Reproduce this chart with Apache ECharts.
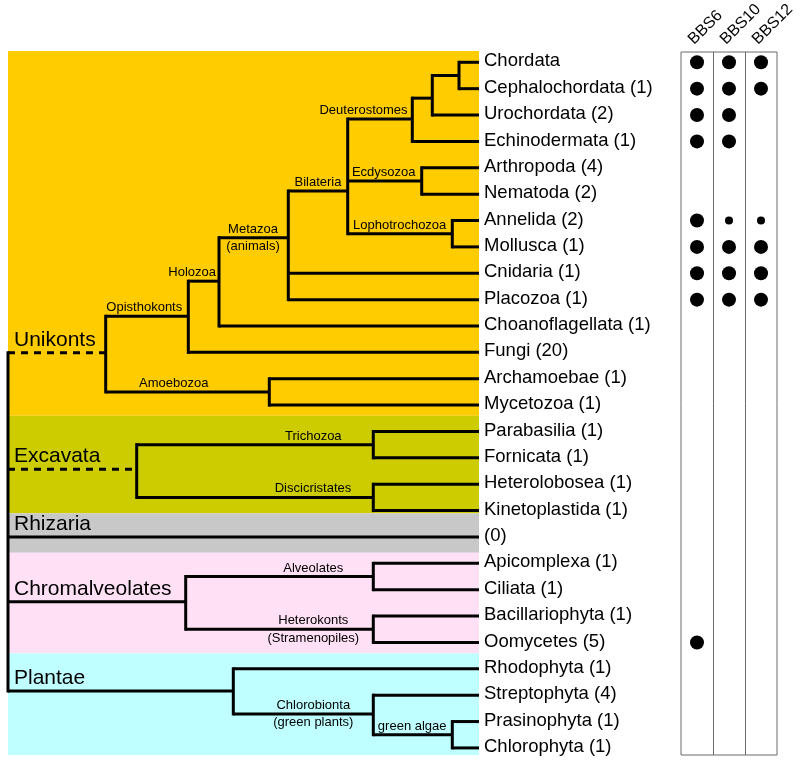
<!DOCTYPE html>
<html><head><meta charset="utf-8">
<script src="https://cdn.jsdelivr.net/npm/echarts@6/dist/echarts.min.js"></script>
<style>html,body{margin:0;padding:0;background:#fff}#c{width:800px;height:765px}</style>
</head><body><div id="c"></div>
<script>
// ---------- DATA ----------
const leaves = ['Chordata','Cephalochordata (1)','Urochordata (2)','Echinodermata (1)','Arthropoda (4)',
  'Nematoda (2)','Annelida (2)','Mollusca (1)','Cnidaria (1)','Placozoa (1)','Choanoflagellata (1)',
  'Fungi (20)','Archamoebae (1)','Mycetozoa (1)','Parabasilia (1)','Fornicata (1)','Heterolobosea (1)',
  'Kinetoplastida (1)','(0)','Apicomplexa (1)','Ciliata (1)','Bacillariophyta (1)','Oomycetes (5)',
  'Rhodophyta (1)','Streptophyta (4)','Prasinophyta (1)','Chlorophyta (1)'];

const columns = ['BBS6','BBS10','BBS12'];
// 2 = large dot, 1 = small dot, 0 = absent (one entry per leaf row)
const BBS6  = [2,2,2,2,0,0,2,2,2,2, 0,0,0,0,0,0,0,0,0,0, 0,0,2,0,0,0,0];
const BBS10 = [2,2,2,2,0,0,1,2,2,2, 0,0,0,0,0,0,0,0,0,0, 0,0,0,0,0,0,0];
const BBS12 = [2,2,0,0,0,0,1,2,2,2, 0,0,0,0,0,0,0,0,0,0, 0,0,0,0,0,0,0];

// tree: [id, depth, row, children]  (numbers = leaf rows, strings = clade ids)
const rootDepth = 8;
const leafDepth = 479;
const clades = [
  ['root', rootDepth, 17, ['Unikonts','Excavata',18,'Chromalveolates','Plantae']],
  ['Unikonts', 105.7, 11.01, ['Opisthokonts','Amoebozoa']],
  ['Opisthokonts', 188.3, 9.63, ['Holozoa',11]],
  ['Holozoa', 219, 8.30, ['Metazoa',10]],
  ['Metazoa', 288.3, 6.65, ['Bilateria',8,9]],
  ['Bilateria', 347.7, 4.88, ['Deuterostomes','Ecdysozoa','Lophotrochozoa']],
  ['Deuterostomes', 412.3, 2.15, ['Olfactores',3]],
  ['Olfactores', 432.3, 1.36, ['Chordata+',2]],
  ['Chordata+', 459, 0.5, [0,1]],
  ['Ecdysozoa', 421.7, 4.5, [4,5]],
  ['Lophotrochozoa', 452.3, 6.5, [6,7]],
  ['Amoebozoa', 269.3, 12.5, [12,13]],
  ['Excavata', 136.7, 15.43, ['Trichozoa','Discicristates']],
  ['Trichozoa', 373.3, 14.5, [14,15]],
  ['Discicristates', 373.3, 16.5, [16,17]],
  ['Chromalveolates', 185.7, 20.46, ['Alveolates','Heterokonts']],
  ['Alveolates', 373.3, 19.5, [19,20]],
  ['Heterokonts', 373.3, 21.5, [21,22]],
  ['Plantae', 233.3, 23.84, [23,'Chlorobionta']],
  ['Chlorobionta', 373.3, 24.71, [24,'green algae']],
  ['green algae', 452.3, 25.5, [25,26]]
];
const dashedStems = ['Unikonts','Excavata'];

// clade annotations: [clade id, text above branch, text below branch, centre along branch]
const cladeLabels = [
  ['Deuterostomes','Deuterostomes',null,363.5],
  ['Ecdysozoa','Ecdysozoa',null,383.7],
  ['Lophotrochozoa','Lophotrochozoa',null,399.7],
  ['Bilateria','Bilateria',null,318],
  ['Metazoa','Metazoa','(animals)',253],
  ['Holozoa','Holozoa',null,192.2],
  ['Opisthokonts','Opisthokonts',null,144.3],
  ['Amoebozoa','Amoebozoa',null,173.8],
  ['Trichozoa','Trichozoa',null,313.3],
  ['Discicristates','Discicristates',null,313],
  ['Alveolates','Alveolates',null,313.3],
  ['Heterokonts','Heterokonts','(Stramenopiles)',313.3],
  ['Chlorobionta','Chlorobionta','(green plants)',313.3],
  ['green algae','green algae',null,412.2]
];

// supergroups: name, stem node (clade id or leaf row), band extent in rows
const groupNames = ['Unikonts','Excavata','Rhizaria','Chromalveolates','Plantae'];
const groupStems = ['Unikonts','Excavata',18,'Chromalveolates','Plantae'];
const groupBands = [[-0.43,13.40],[13.40,17.10],[17.10,18.60],[18.60,22.41],[22.41,26.27]];

// ---------- STYLE / LAYOUT ----------
const bandColors = ['#FFCC00','#CCCC00','#C8C8C8','#FFE0F5','#C0FFFF'];
const FONT = '"Liberation Sans", Arial, Helvetica, sans-serif';
const ROW0 = 62.3, ROWH = 26.37, W = 800, H = 765;
const rowAt = px => (px - ROW0) / ROWH;
const BOX = '#6a6a6a';

// ---------- BUILD ----------
const cladeById = {};
clades.forEach(c => { cladeById[c[0]] = c; });
const nodePos = ch => typeof ch === 'number' ? [leafDepth, ch] : [cladeById[ch][1], cladeById[ch][2]];

const segs = []; // [x1,y1,x2,y2,dashed,vertical]
clades.forEach(c => {
  const kids = c[3].map(nodePos);
  const rows = kids.map(k => k[1]);
  segs.push([c[1], Math.min(...rows), c[1], Math.max(...rows), 0, 1]);
  c[3].forEach((ch, i) => {
    segs.push([c[1], kids[i][1], kids[i][0], kids[i][1], dashedStems.includes(ch) ? 1 : 0, 0]);
  });
});

const texts = [];
leaves.forEach((t, i) => texts.push({x: leafDepth, row: i, text: t, size: 18.5, align: 'left', dx: 5, dy: -1}));
cladeLabels.forEach(l => {
  const c = cladeById[l[0]];
  if (l[1]) texts.push({x: l[3], row: c[2], text: l[1], size: 13, align: 'center', dx: 0, dy: -8.5});
  if (l[2]) texts.push({x: l[3], row: c[2], text: l[2], size: 13, align: 'center', dx: 0, dy: 9});
});
groupNames.forEach((g, i) => {
  const p = nodePos(groupStems[i]);
  texts.push({x: rootDepth, row: p[1], text: g, size: 21, align: 'left', dx: 6, dy: -12.5});
});

const dots = [];
[BBS6, BBS10, BBS12].forEach((col, ci) => col.forEach((v, r) => { if (v) dots.push([ci, r, v]); }));

const m2Top = 52, m2Bottom = 755;

const chart = echarts.init(document.getElementById('c'), null, {renderer: 'canvas'});
chart.setOption({
  animation: false,
  backgroundColor: '#fff',
  grid: [
    {left: 0, top: 0, width: W, height: H, show: false},
    {left: 681, top: m2Top, width: 96, height: m2Bottom - m2Top, show: true,
     borderColor: BOX, borderWidth: 1, backgroundColor: 'transparent'}
  ],
  xAxis: [
    {type: 'value', gridIndex: 0, min: 0, max: W, show: false},
    {type: 'category', gridIndex: 1, data: columns, boundaryGap: true,
     axisLine: {show: false}, axisTick: {show: false}, axisLabel: {show: false},
     splitLine: {show: false}}
  ],
  yAxis: [
    {type: 'value', gridIndex: 0, min: rowAt(0), max: rowAt(H), inverse: true, show: false},
    {type: 'value', gridIndex: 1, min: rowAt(m2Top), max: rowAt(m2Bottom), inverse: true, show: false}
  ],
  series: [
    {
      type: 'custom', xAxisIndex: 0, yAxisIndex: 0, silent: true, clip: false, z: 1,
      data: groupBands.map(b => [rootDepth, b[0], leafDepth, b[1]]),
      renderItem: (params, api) => {
        const p1 = api.coord([api.value(0), api.value(1)]);
        const p2 = api.coord([api.value(2), api.value(3)]);
        return {type: 'rect', shape: {x: p1[0], y: p1[1], width: p2[0] - p1[0], height: p2[1] - p1[1]},
                style: {fill: bandColors[params.dataIndex]}};
      }
    },
    {
      type: 'custom', xAxisIndex: 0, yAxisIndex: 0, silent: true, clip: false, z: 3,
      data: segs,
      renderItem: (params, api) => {
        const s = segs[params.dataIndex];
        const p1 = api.coord([s[0], s[1]]);
        const p2 = api.coord([s[2], s[3]]);
        return {type: 'line', shape: {x1: p1[0], y1: p1[1], x2: p2[0], y2: p2[1]},
                style: {stroke: '#000', lineWidth: 3, lineCap: s[5] ? 'square' : 'butt',
                        lineDash: s[4] ? [7, 6] : null}};
      }
    },
    {
      type: 'custom', xAxisIndex: 0, yAxisIndex: 0, silent: true, clip: false, z: 4,
      data: texts.map(t => [t.x, t.row]),
      renderItem: (params, api) => {
        const t = texts[params.dataIndex];
        const p = api.coord([api.value(0), api.value(1)]);
        return {type: 'text', x: p[0] + t.dx, y: p[1] + t.dy,
                style: {text: t.text, fill: '#000', fontSize: t.size, fontFamily: FONT,
                        align: t.align, verticalAlign: 'middle'}};
      }
    },
    {
      // column dividers between presence columns
      type: 'custom', xAxisIndex: 1, yAxisIndex: 1, silent: true, clip: false, z: 2,
      data: columns.slice(1).map((c, i) => [i + 1, rowAt(m2Top), rowAt(m2Bottom)]),
      renderItem: (params, api) => {
        const i = api.value(0);
        const a = api.coord([i - 1, api.value(1)]);
        const b = api.coord([i, api.value(2)]);
        const x = Math.round((a[0] + b[0]) / 2) + 0.5;
        return {type: 'line', shape: {x1: x, y1: a[1], x2: x, y2: b[1]},
                style: {stroke: BOX, lineWidth: 1}};
      }
    },
    {
      type: 'scatter', xAxisIndex: 1, yAxisIndex: 1, silent: true, z: 5,
      data: dots,
      symbol: 'circle',
      symbolSize: v => v[2] === 2 ? 14 : 8,
      itemStyle: {color: '#000', opacity: 1}
    },
    {
      type: 'custom', xAxisIndex: 1, yAxisIndex: 1, silent: true, clip: false, z: 5,
      data: columns.map((c, i) => [i, rowAt(m2Top)]),
      renderItem: (params, api) => {
        const p = api.coord([api.value(0), api.value(1)]);
        return {type: 'text', x: p[0] - 6, y: p[1] - 10, rotation: Math.PI / 4,
                style: {text: columns[params.dataIndex], fill: '#000', fontSize: 16, fontFamily: FONT,
                        align: 'left', verticalAlign: 'middle'}};
      }
    }
  ]
});
</script>
</body></html>
